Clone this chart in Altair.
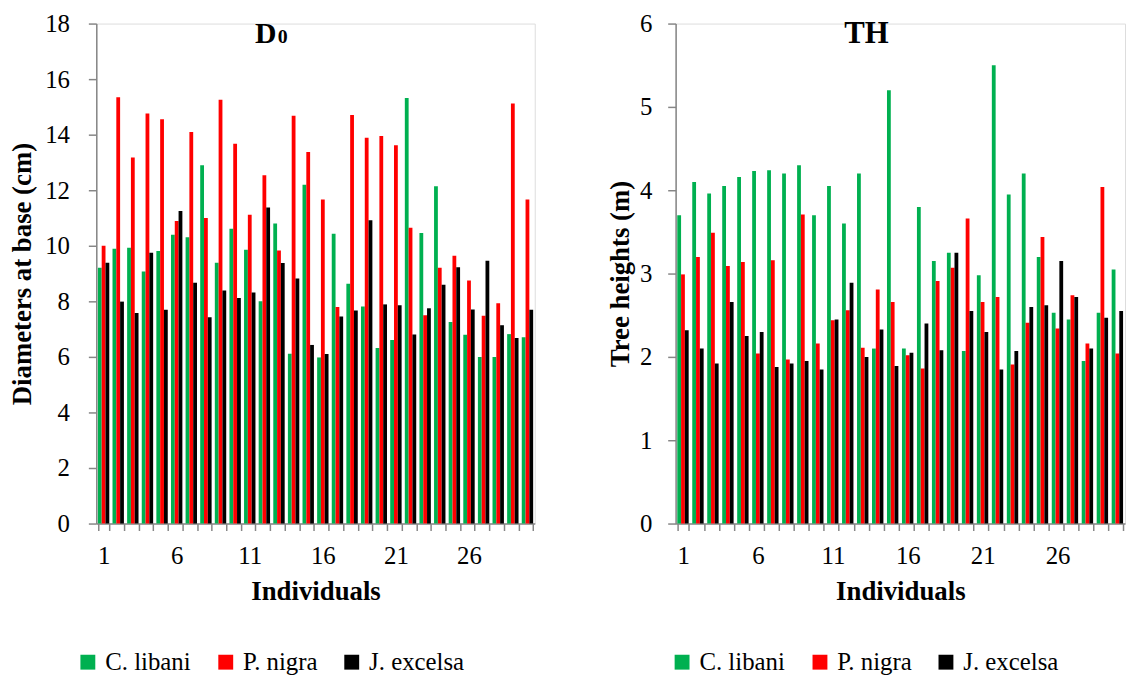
import altair as alt
import pandas as pd

individuals = list(range(1, 31))
species = ["C. libani", "P. nigra", "J. excelsa"]
colors = ["#00B050", "#FF0000", "#000000"]

d0_libani = [9.21, 9.89, 9.93, 9.07, 9.81, 10.40, 10.31, 12.90, 9.39, 10.61,
             9.86, 8.00, 10.80, 6.11, 12.20, 5.98, 10.43, 8.63, 7.81, 6.32,
             6.61, 15.32, 10.46, 12.14, 7.26, 6.80, 6.00, 6.00, 6.82, 6.71]
d0_nigra = [10.00, 15.35, 13.18, 14.76, 14.56, 10.89, 14.10, 11.00, 15.26, 13.67,
            11.12, 12.54, 9.83, 14.68, 13.38, 11.67, 7.80, 14.71, 13.89, 13.95,
            13.62, 10.65, 7.50, 9.21, 9.64, 8.75, 7.48, 7.93, 15.12, 11.67]
d0_excelsa = [9.39, 7.99, 7.58, 9.75, 7.70, 11.25, 8.67, 7.43, 8.39, 8.12,
              8.32, 11.38, 9.38, 8.82, 6.43, 6.10, 7.45, 7.67, 10.92, 7.89,
              7.86, 6.81, 7.75, 8.60, 9.23, 7.71, 9.46, 7.14, 6.68, 7.70]

th_libani = [3.70, 4.10, 3.96, 4.05, 4.16, 4.23, 4.24, 4.20, 4.30, 3.70,
             4.05, 3.60, 4.20, 2.10, 5.20, 2.10, 3.80, 3.15, 3.25, 2.07,
             2.98, 5.50, 3.95, 4.20, 3.20, 2.53, 2.45, 1.95, 2.53, 3.05]
th_nigra = [2.99, 3.20, 3.49, 3.09, 3.14, 2.04, 3.16, 1.97, 3.71, 2.16,
            2.44, 2.56, 2.11, 2.81, 2.66, 2.02, 1.86, 2.91, 3.07, 3.66,
            2.66, 2.72, 1.91, 2.41, 3.44, 2.34, 2.74, 2.16, 4.04, 2.04]
th_excelsa = [2.32, 2.10, 1.92, 2.66, 2.25, 2.30, 1.88, 1.92, 1.95, 1.85,
              2.45, 2.89, 2.00, 2.33, 1.89, 2.05, 2.40, 2.08, 3.25, 2.55,
              2.30, 1.85, 2.07, 2.60, 2.62, 3.15, 2.72, 2.10, 2.47, 2.55]


def long_frame(series):
    rows = []
    for sp, vals in zip(species, series):
        for ind, v in zip(individuals, vals):
            rows.append({"Individual": ind, "Species": sp, "Value": v})
    return pd.DataFrame(rows)


df_d0 = long_frame([d0_libani, d0_nigra, d0_excelsa])
df_th = long_frame([th_libani, th_nigra, th_excelsa])

FONT = "Liberation Serif"
AX = "#868686"


def panel(df, ymax, ystep, ytitle, title_parts, w, legend_x, ytitle_pad, ylabel_pad):
    color = alt.Color(
        "Species:N",
        scale=alt.Scale(domain=species, range=colors),
        sort=species,
        legend=alt.Legend(
            title=None, orient="none", direction="horizontal",
            legendX=legend_x, legendY=631,
            symbolType="square", symbolSize=225, symbolStrokeWidth=0,
            labelFont=FONT, labelFontSize=25, labelColor="#000000",
            labelOffset=5, columnPadding=22, labelLimit=300,
        ),
    )
    bars = alt.Chart(df).mark_bar().encode(
        x=alt.X(
            "Individual:O",
            title="Individuals",
            scale=alt.Scale(paddingInner=0.22, paddingOuter=0.11),
            axis=alt.Axis(
                labelAngle=0, tickBand="extent", tickSize=7, tickColor=AX,
                domainColor=AX, domainWidth=1.5, tickWidth=1.5,
                labelExpr="(datum.value - 1) % 5 == 0 ? datum.label : ''",
                labelFont=FONT, labelFontSize=25, labelColor="#000000",
                labelPadding=13, titleFont=FONT, titleFontSize=27,
                titleFontWeight="bold", titleColor="#000000", titlePadding=11,
            ),
        ),
        xOffset=alt.XOffset("Species:N", sort=species,
                            scale=alt.Scale(paddingInner=0, paddingOuter=0)),
        y=alt.Y(
            "Value:Q",
            title=ytitle,
            scale=alt.Scale(domain=[0, ymax], nice=False, zero=True),
            axis=alt.Axis(
                values=[i * ystep for i in range(int(round(ymax / ystep)) + 1)],
                grid=False, tickSize=8, tickColor=AX, domainColor=AX,
                domainWidth=1.5, tickWidth=1.5,
                labelFont=FONT, labelFontSize=25, labelColor="#000000",
                labelPadding=ylabel_pad, titleFont=FONT, titleFontSize=27,
                titleFontWeight="bold", titleColor="#000000",
                titlePadding=ytitle_pad,
            ),
        ),
        color=color,
    )
    layers = [bars]
    for txt, size, xpos in title_parts:
        layers.append(
            alt.Chart(pd.DataFrame({"t": [txt]})).mark_text(
                font=FONT, fontSize=size, fontWeight="bold", color="#000000",
                align="left", baseline="alphabetic",
            ).encode(x=alt.value(xpos), y=alt.value(20), text="t:N")
        )
    return alt.layer(*layers).properties(width=w, height=504)


left = panel(df_d0, 18, 2, "Diameters at base (cm)",
             [("D", 30, 160), ("0", 20, 183)], 442, -21, 8, 19)
right = panel(df_th, 6, 1, "Tree heights (m)",
              [("TH", 31, 170)], 453, -6, 5, 16)

chart = alt.hconcat(left, right, spacing=71).resolve_scale(
    color="shared"
).resolve_legend(color="independent").configure_view(
    stroke=None
).configure(background="#ffffff").properties(
    padding={"left": 0, "top": 0, "right": 0, "bottom": 0}
)

chart.save("out.html", embed_options={"renderer": "svg", "actions": False})
